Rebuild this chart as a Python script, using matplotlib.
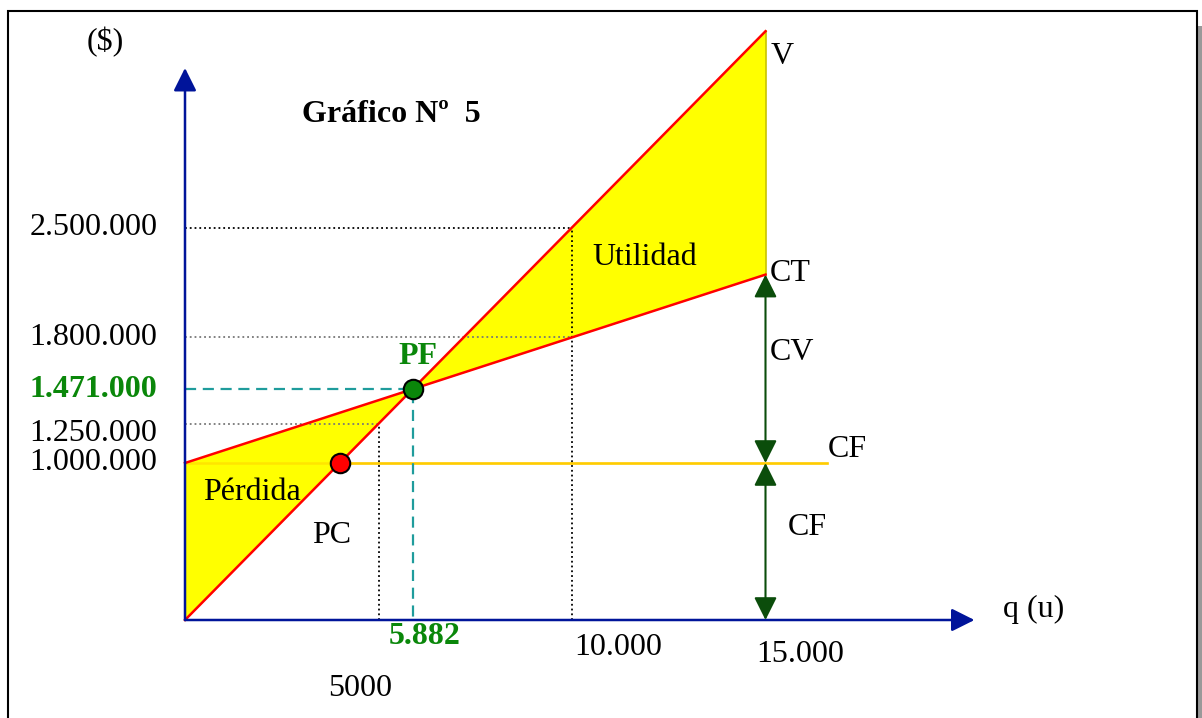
import numpy as np
import matplotlib.pyplot as plt
from matplotlib.patches import Rectangle

plt.rcParams['font.family'] = ['Liberation Serif', 'DejaVu Serif']

# datos del punto de equilibrio
precio = 250          # $ por unidad
costo_var = 80        # $ por unidad
costo_fijo = 1000000  # $
q_max = 15000
q_pe = 5882
v_pe = 1471000
q_pc = 4000

y_ticks = [2500000, 1800000, 1471000, 1250000, 1000000]
y_labels = ['2.500.000', '1.800.000', '1.471.000', '1.250.000', '1.000.000']
x_ticks = [q_pe, 10000, 15000, 5000]
x_labels = ['5.882', '10.000', '15.000', '5000']

NAVY = '#00149a'
DKGREEN = '#0b4d0b'
GREEN = '#0a870a'
TEAL = '#1f9c9c'
FS = 23

# escala: 38.7 px por 1000 u, 157 px por millon, origen en (185, 620) px
W, H = 1202, 718
x0, y0 = 185, 620
sx, sy = 38.7 / 1000, 157 / 1e6

fig = plt.figure(figsize=(W / 100, H / 100), dpi=100)
ax = fig.add_axes([0, 0, 1, 1])
ax.set_xlim(-x0 / sx, (W - x0) / sx)
ax.set_ylim(-(H - y0) / sy, y0 / sy)
ax.axis('off')

q = np.array([0, q_max])
ventas = precio * q
costo_total = costo_fijo + costo_var * q

# lineas de referencia punteadas (por encima del relleno)
ax.plot([0, 10000], [2500000, 2500000], ls=':', color='black', lw=1.3, zorder=2.5)
ax.plot([10000, 10000], [0, 2500000], ls=':', color='black', lw=1.3, zorder=2.5)
ax.plot([0, 10000], [1800000, 1800000], ls=':', color='#777777', lw=1.3, zorder=2.5)
ax.plot([0, 5000], [1250000, 1250000], ls=':', color='#777777', lw=1.3, zorder=2.5)
ax.plot([5000, 5000], [0, 1250000], ls=':', color='black', lw=1.3, zorder=2.5)

# costo fijo
ax.plot([0, 16600], [costo_fijo, costo_fijo], color='#ffcc00', lw=1.8, zorder=1)

# zonas de utilidad y perdida
qq = np.linspace(0, q_max, 400)
ax.fill_between(qq, precio * qq, costo_fijo + costo_var * qq, color='#ffff00', lw=0, zorder=2)
ax.plot([q_max, q_max], [costo_total[1], ventas[1]], color='#c8c400', lw=1.2, zorder=2)
ax.plot([0, 16600], [costo_fijo, costo_fijo], color='#ffcc00', lw=1.8, alpha=0.5, zorder=2)

ax.plot(q, ventas, color='#ff0000', lw=1.8, zorder=3)
ax.plot(q, costo_total, color='#ff0000', lw=1.8, zorder=3)

# punto de equilibrio
ax.plot([0, q_pe, q_pe], [v_pe, v_pe, 0], color=TEAL, lw=1.6, dashes=(5, 3), zorder=2.5)

ax.plot(q_pc, precio * q_pc, 'o', ms=14, mfc='#ff0000', mec='black', mew=1.5, zorder=5)
ax.plot(q_pe, v_pe, 'o', ms=14, mfc=GREEN, mec='black', mew=1.5, zorder=5)

# ejes
arrow = dict(arrowstyle='-|>,head_length=1.0,head_width=0.5', mutation_scale=14,
             color=NAVY, lw=1.8, shrinkA=0, shrinkB=0)
ax.annotate('', xy=(20400, 0), xytext=(0, 0), arrowprops=arrow, zorder=4)
ax.annotate('', xy=(0, 3516000), xytext=(0, 0), arrowprops=arrow, zorder=4)

# flechas CV y CF
darrow = dict(arrowstyle='<|-|>,head_length=1.0,head_width=0.5', mutation_scale=14,
              color=DKGREEN, lw=1.5, shrinkA=0, shrinkB=0)
ax.annotate('', xy=(q_max, costo_total[1]), xytext=(q_max, costo_fijo), arrowprops=darrow, zorder=4)
ax.annotate('', xy=(q_max, costo_fijo), xytext=(q_max, 0), arrowprops=darrow, zorder=4)

# etiquetas de ejes
for val, lab in zip(y_ticks, y_labels):
    yy = val - 60000 if val == 1250000 else val
    if val == v_pe:
        ax.text(-720, yy, lab, ha='right', va='center', fontsize=FS, color=GREEN, fontweight='bold')
    else:
        ax.text(-720, yy, lab, ha='right', va='center', fontsize=FS)

x_pos = [(q_pe + 300, -102000), (10000 + 1190, -172000), (15000 + 890, -217000), (5000 - 480, -439000)]
for (xx, yy), lab in zip(x_pos, x_labels):
    if lab == '5.882':
        ax.text(xx, yy, lab, ha='center', va='center', fontsize=FS, color=GREEN, fontweight='bold')
    else:
        ax.text(xx, yy, lab, ha='center', va='center', fontsize=FS)

ax.text(-2070, 3680000, '($)', ha='center', va='center', fontsize=FS)
ax.text(21140, 64000, 'q (u)', ha='left', va='center', fontsize=FS)
ax.text(3020, 3217000, 'Gráfico Nº  5', ha='left', va='center', fontsize=FS, fontweight='bold')

ax.text(15120, 3586000, 'V', ha='left', va='center', fontsize=FS)
ax.text(15120, 2204000, 'CT', ha='left', va='center', fontsize=FS)
ax.text(15120, 1707000, 'CV', ha='left', va='center', fontsize=FS)
ax.text(16600, 1083000, 'CF', ha='left', va='center', fontsize=FS)
ax.text(15580, 586000, 'CF', ha='left', va='center', fontsize=FS)
ax.text(11890, 2312000, 'Utilidad', ha='center', va='center', fontsize=FS)
ax.text(1730, 815000, 'Pérdida', ha='center', va='center', fontsize=FS)
ax.text(3800, 541000, 'PC', ha='center', va='center', fontsize=FS)
ax.text(6020, 1680000, 'PF', ha='center', va='center', fontsize=FS, color=GREEN, fontweight='bold')

# marco
fig.patches.append(Rectangle((1198 / W, -0.01), 5 / W, (H - 26) / H + 0.01,
                             transform=fig.transFigure, fc='#999999', ec='none'))
fig.patches.append(Rectangle((8 / W, -0.01), (1197 - 8) / W, 1 - 11 / H + 0.01,
                             transform=fig.transFigure, fill=False, ec='black', lw=1.5))

fig.savefig('out.png', dpi=100)
